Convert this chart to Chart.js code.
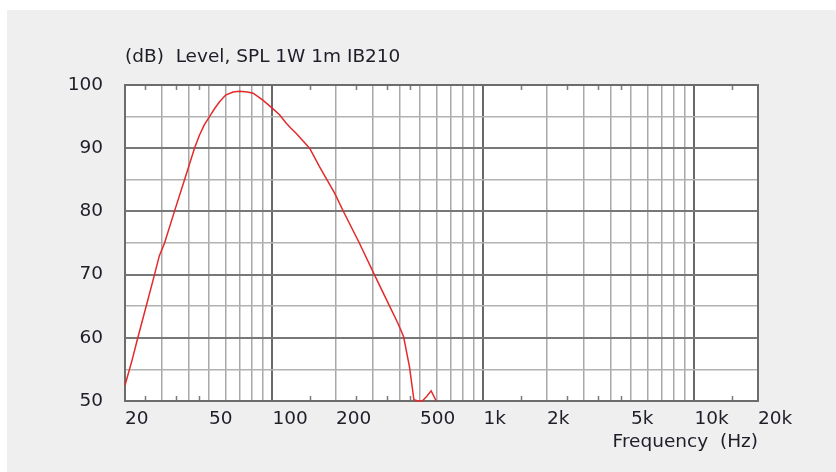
<!DOCTYPE html>
<html>
<head>
<meta charset="utf-8">
<script src="https://cdn.jsdelivr.net/npm/chart.js@4/dist/chart.umd.min.js"></script>
<style>
  html, body { margin: 0; padding: 0; background: #ffffff; }
  #panel { position: absolute; left: 7px; top: 10px; width: 829px; height: 462px; background: #efefef; }
  #chart { display: block; }
</style>
</head>
<body>
<div id="panel"><canvas id="chart" width="829" height="462"></canvas></div>
<script>
'use strict';

// ── Data ──────────────────────────────────────────────────────
const FREQ_HZ = [20, 21.5, 23, 25.2, 27.6, 29.1, 30.8, 34.3, 38.3, 42.7, 45, 47.5, 50.3, 53, 56, 60, 65, 70, 76, 81, 90,
                 100, 108, 116, 122, 129, 150, 167, 197, 219, 258, 304, 359, 393, 418, 446, 468, 490, 513, 540, 565, 597];
const SPL_DB  = [52.5, 56.2, 60, 65, 70, 73, 75, 80, 85, 90, 92, 93.7, 95, 96.2, 97.3, 98.4, 98.9, 99, 98.9, 98.7, 97.6,
                 96.3, 95.3, 94, 93.2, 92.4, 90, 87.1, 82.9, 79.7, 75, 70, 65, 62.3, 60.2, 55.4, 50.2, 50, 50, 50.8, 51.6, 50];

const X_GRID = [20, 30, 40, 50, 60, 70, 80, 90,
                100, 200, 300, 400, 500, 600, 700, 800, 900,
                1000, 2000, 3000, 4000, 5000, 6000, 7000, 8000, 9000,
                10000, 20000];
const X_LABEL_VALUES = [20, 50, 100, 200, 500, 1000, 2000, 5000, 10000, 20000];
const X_LABEL_TEXT   = ['20', '50', '100', '200', '500', '1k', '2k', '5k', '10k', '20k'];
const X_DECADES      = [100, 1000, 10000];
const X_MINOR_TICKS  = [25, 35, 45, 150, 250, 350, 450, 1500, 2500, 3500, 4500, 15000];

const Y_MIN = 50, Y_MAX = 100, Y_STEP = 5;

const TITLE   = '(dB)  Level, SPL 1W 1m IB210';
const X_TITLE = 'Frequency  (Hz)';

const FONT = '"DejaVu Sans", Verdana, sans-serif';
const TEXT = '#1e1e28';

// ── Plugins ───────────────────────────────────────────────────
const plotFrame = {
  id: 'plotFrame',
  beforeDraw(chart) {
    const { ctx, chartArea: a } = chart;
    ctx.save();
    ctx.fillStyle = '#ffffff';
    ctx.fillRect(a.left, a.top, a.right - a.left, a.bottom - a.top);
    ctx.restore();
  },
  beforeDatasetsDraw(chart) {
    const { ctx, chartArea: a, scales: { x } } = chart;
    ctx.save();
    // small inside ticks top & bottom
    ctx.strokeStyle = '#7a7a7a';
    ctx.lineWidth = 1.5;
    X_MINOR_TICKS.forEach(v => {
      const px = Math.round(x.getPixelForValue(v)) + 0.5;
      ctx.beginPath();
      ctx.moveTo(px, a.top); ctx.lineTo(px, a.top + 5);
      ctx.moveTo(px, a.bottom); ctx.lineTo(px, a.bottom - 5);
      ctx.stroke();
    });
    // frame
    ctx.strokeStyle = '#6c6c6c';
    ctx.lineWidth = 2;
    ctx.strokeRect(a.left, a.top, a.right - a.left, a.bottom - a.top);
    ctx.restore();
  },
  afterDraw(chart) {
    const { ctx, chartArea: a } = chart;
    ctx.save();
    ctx.font = '18.5px ' + FONT;
    ctx.fillStyle = TEXT;
    ctx.textAlign = 'left';
    ctx.textBaseline = 'alphabetic';
    ctx.fillText(TITLE, a.left, a.top - 23);
    ctx.restore();
  },
};

// ── Chart ─────────────────────────────────────────────────────
new Chart(document.getElementById('chart'), {
  type: 'line',
  data: {
    datasets: [{
      data: FREQ_HZ.map((f, i) => ({ x: f, y: SPL_DB[i] })),
      borderColor: '#e42a2a',
      borderWidth: 1.5,
      pointRadius: 0,
      tension: 0,
      clip: 3,
    }],
  },
  options: {
    responsive: false,
    animation: false,
    layout: { padding: { left: 0, right: 78, top: 75, bottom: 0 } },
    plugins: { legend: { display: false }, tooltip: { enabled: false } },
    scales: {
      x: {
        type: 'logarithmic',
        min: 20, max: 20000,
        afterBuildTicks: s => { s.ticks = X_GRID.map(v => ({ value: v })); },
        afterFit: s => { s.height = 71; },
        border: { display: false },
        grid: {
          drawTicks: false,
          color: c => X_DECADES.includes(c.tick.value) ? '#686868' : '#a8a8a8',
          lineWidth: c => X_DECADES.includes(c.tick.value) ? 2 : 1.5,
        },
        ticks: {
          autoSkip: false, maxRotation: 0, minRotation: 0,
          align: 'start',
          padding: 7,
          color: TEXT,
          font: { family: FONT, size: 18.5 },
          callback: v => {
            const i = X_LABEL_VALUES.indexOf(v);
            return i >= 0 ? X_LABEL_TEXT[i] : '';
          },
        },
        title: {
          display: true, text: X_TITLE, align: 'end',
          color: TEXT,
          font: { family: FONT, size: 18.5 },
          padding: { top: 0, bottom: 19 },
        },
      },
      y: {
        min: Y_MIN, max: Y_MAX,
        afterFit: s => { s.width = 118; },
        border: { display: false },
        grid: {
          drawTicks: false,
          color: c => c.tick.value % 10 === 0 ? '#787878' : '#b2b2b2',
          lineWidth: c => c.tick.value % 10 === 0 ? 2 : 1.5,
        },
        ticks: {
          stepSize: Y_STEP,
          padding: 22,
          color: TEXT,
          font: { family: FONT, size: 18.5 },
          callback: v => v % 10 === 0 ? String(v) : '',
        },
      },
    },
  },
  plugins: [plotFrame],
});
</script>
</body>
</html>
